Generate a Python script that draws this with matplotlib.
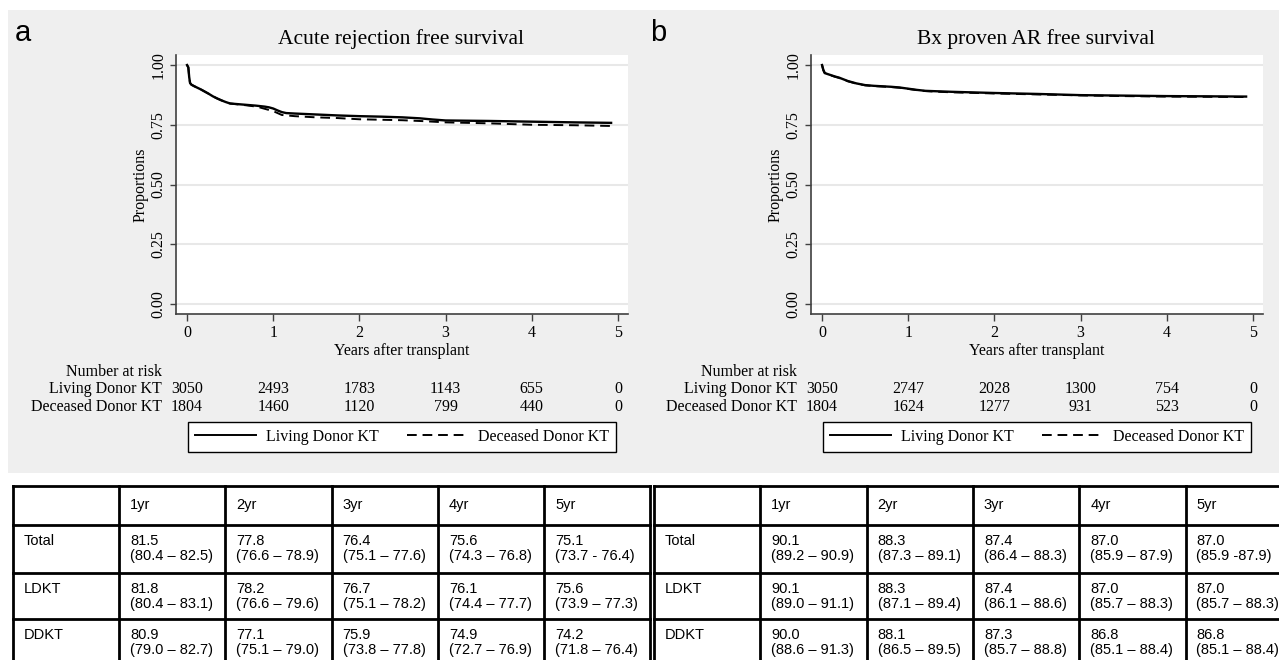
import matplotlib.pyplot as plt
from matplotlib.patches import Rectangle
from matplotlib.lines import Line2D
from matplotlib.transforms import blended_transform_factory

W, H = 1279, 660

# ---- panel a: acute rejection free survival ----
a_ld_t = [0, 0.015, 0.025, 0.035, 0.05, 0.08, 0.12, 0.16, 0.2, 0.25, 0.3, 0.35, 0.4, 0.45,
          0.5, 0.6, 0.7, 0.8, 0.9, 0.95, 1.0, 1.05, 1.1, 1.15, 1.25, 1.5, 1.75, 2.0, 2.25,
          2.5, 2.7, 2.85, 3.0, 3.5, 4.0, 4.5, 4.92]
a_ld_s = [1.0, 0.99, 0.95, 0.925, 0.918, 0.912, 0.905, 0.898, 0.89, 0.88, 0.869, 0.86,
          0.852, 0.845, 0.839, 0.836, 0.833, 0.830, 0.826, 0.823, 0.818, 0.81, 0.803, 0.799,
          0.797, 0.793, 0.789, 0.786, 0.784, 0.781, 0.777, 0.772, 0.768, 0.766, 0.763,
          0.760, 0.758]
a_dd_t = [0, 0.015, 0.025, 0.035, 0.05, 0.08, 0.12, 0.16, 0.2, 0.25, 0.3, 0.35, 0.4, 0.45,
          0.5, 0.6, 0.7, 0.8, 0.85, 0.9, 0.95, 1.0, 1.05, 1.1, 1.25, 1.5, 1.75, 2.0, 2.25,
          2.5, 2.75, 3.0, 3.25, 3.5, 4.0, 4.5, 4.92]
a_dd_s = [1.0, 0.99, 0.95, 0.925, 0.918, 0.912, 0.905, 0.898, 0.89, 0.88, 0.869, 0.86,
          0.852, 0.845, 0.839, 0.835, 0.831, 0.826, 0.822, 0.817, 0.812, 0.807, 0.799,
          0.791, 0.786, 0.781, 0.778, 0.773, 0.771, 0.769, 0.765, 0.760, 0.758, 0.756,
          0.750, 0.748, 0.745]
a_ld_risk = [3050, 2493, 1783, 1143, 655, 0]
a_dd_risk = [1804, 1460, 1120, 799, 440, 0]

# ---- panel b: biopsy proven AR free survival ----
b_ld_t = [0, 0.015, 0.03, 0.05, 0.1, 0.15, 0.2, 0.25, 0.3, 0.35, 0.4, 0.5, 0.6, 0.7, 0.8,
          0.9, 1.0, 1.1, 1.2, 1.35, 1.5, 2.0, 2.5, 3.0, 3.5, 4.0, 4.5, 4.92]
b_ld_s = [1.0, 0.98, 0.968, 0.964, 0.958, 0.952, 0.947, 0.94, 0.933, 0.928, 0.923, 0.916,
          0.913, 0.911, 0.909, 0.906, 0.901, 0.896, 0.892, 0.890, 0.888, 0.883, 0.879,
          0.874, 0.872, 0.870, 0.869, 0.868]
b_dd_t = [0, 0.015, 0.03, 0.05, 0.1, 0.15, 0.2, 0.25, 0.3, 0.35, 0.4, 0.5, 0.6, 0.7, 0.8,
          0.9, 1.0, 1.1, 1.2, 1.35, 1.5, 2.0, 2.5, 3.0, 3.5, 4.0, 4.5, 4.92]
b_dd_s = [1.0, 0.978, 0.966, 0.962, 0.957, 0.951, 0.946, 0.939, 0.932, 0.927, 0.922, 0.915,
          0.912, 0.910, 0.908, 0.905, 0.900, 0.895, 0.891, 0.888, 0.886, 0.881, 0.877,
          0.873, 0.870, 0.868, 0.867, 0.866]
b_ld_risk = [3050, 2747, 2028, 1300, 754, 0]
b_dd_risk = [1804, 1624, 1277, 931, 523, 0]

risk_times = [0, 1, 2, 3, 4, 5]

# ---- tables under the plots ----
years = ['1yr', '2yr', '3yr', '4yr', '5yr']
groups = ['Total', 'LDKT', 'DDKT']
a_est = [['81.5', '77.8', '76.4', '75.6', '75.1'],
         ['81.8', '78.2', '76.7', '76.1', '75.6'],
         ['80.9', '77.1', '75.9', '74.9', '74.2']]
a_ci = [['(80.4 – 82.5)', '(76.6 – 78.9)', '(75.1 – 77.6)', '(74.3 – 76.8)', '(73.7 - 76.4)'],
        ['(80.4 – 83.1)', '(76.6 – 79.6)', '(75.1 – 78.2)', '(74.4 – 77.7)', '(73.9 – 77.3)'],
        ['(79.0 – 82.7)', '(75.1 – 79.0)', '(73.8 – 77.8)', '(72.7 – 76.9)', '(71.8 – 76.4)']]
b_est = [['90.1', '88.3', '87.4', '87.0', '87.0'],
         ['90.1', '88.3', '87.4', '87.0', '87.0'],
         ['90.0', '88.1', '87.3', '86.8', '86.8']]
b_ci = [['(89.2 – 90.9)', '(87.3 – 89.1)', '(86.4 – 88.3)', '(85.9 – 87.9)', '(85.9 -87.9)'],
        ['(89.0 – 91.1)', '(87.1 – 89.4)', '(86.1 – 88.6)', '(85.7 – 88.3)', '(85.7 – 88.3)'],
        ['(88.6 – 91.3)', '(86.5 – 89.5)', '(85.7 – 88.8)', '(85.1 – 88.4)', '(85.1 – 88.4)']]

SERIF = 'Liberation Serif'
SANS = 'Liberation Sans'


def px_rect(l, t, r, b):
    return [l / W, 1 - b / H, (r - l) / W, (b - t) / H]


fig = plt.figure(figsize=(W / 100, H / 100), dpi=100, facecolor='white')

# background / overlay axes in pixel units
bg = fig.add_axes([0, 0, 1, 1], zorder=0)
bg.set_xlim(0, W)
bg.set_ylim(H, 0)
bg.axis('off')
bg.add_patch(Rectangle((8, 10), W - 8, 463, color='#efefef', lw=0))


def km_panel(ox, letter, title, ld_t, ld_s, dd_t, dd_s, pval, px, ld_risk, dd_risk):
    ax = fig.add_axes(px_rect(176 + ox, 55, 628 + ox, 314), zorder=2)
    ax.plot(ld_t, ld_s, color='black', lw=1.7)
    ax.plot(dd_t, dd_s, color='black', lw=1.4, ls=(0, (5, 3)))
    ax.set_xlim(-0.128, 5.116)
    ax.set_ylim(-0.042, 1.042)
    ax.set_yticks([0, 0.25, 0.5, 0.75, 1.0])
    ax.set_yticklabels(['0.00', '0.25', '0.50', '0.75', '1.00'], rotation=90, va='center',
                       family=SERIF, fontsize=11.5)
    ax.set_xticks(risk_times)
    ax.set_xticklabels([str(t) for t in risk_times], family=SERIF, fontsize=11.5)
    ax.yaxis.grid(True, color='#e8e8e8', lw=1.5)
    ax.set_axisbelow(True)
    for s in ['top', 'right']:
        ax.spines[s].set_visible(False)
    for s in ['left', 'bottom']:
        ax.spines[s].set_color('#404040')
        ax.spines[s].set_linewidth(1.2)
    ax.tick_params(axis='y', length=4, width=1, color='#404040', pad=3)
    ax.tick_params(axis='x', length=5, width=1, color='#404040', pad=3)

    bg.text(px + ox, 150, pval, ha='right', va='baseline', family=SANS, fontsize=14,
            zorder=5)
    bg.text(141 + ox, 185, 'Proportions', rotation=90, ha='center', va='center',
            family=SERIF, fontsize=11.5)
    bg.text(401 + ox, 39, title, ha='center', va='center', family=SERIF, fontsize=15.5)
    bg.text(23 + ox, 33, letter, ha='center', va='center', family=SANS, fontsize=21)
    bg.text(402 + ox, 351, 'Years after transplant', ha='center', va='center',
            family=SERIF, fontsize=11.5)

    # number at risk
    bg.text(162 + ox, 372, 'Number at risk', ha='right', va='center', family=SERIF, fontsize=11.5)
    tr = blended_transform_factory(ax.transData, bg.transData)
    for name, vals, y in [('Living Donor KT', ld_risk, 389), ('Deceased Donor KT', dd_risk, 407)]:
        bg.text(162 + ox, y, name, ha='right', va='center', family=SERIF, fontsize=11.5)
        for t, v in zip(risk_times, vals):
            ax.text(t, y, str(v), transform=tr, ha='center', va='center', family=SERIF,
                    fontsize=11.5, clip_on=False)

    handles = [Line2D([], [], color='black', lw=1.4),
               Line2D([], [], color='black', lw=1.4, ls=(0, (5, 3)))]
    leg = fig.legend(handles, ['Living Donor KT', 'Deceased Donor KT'], loc='center',
                     bbox_to_anchor=((402 + ox) / W, 1 - 437 / H), ncol=2, frameon=True,
                     fancybox=False, edgecolor='black', facecolor='white', framealpha=1,
                     prop={'family': SERIF, 'size': 11.5}, handlelength=3.8,
                     handletextpad=0.6, columnspacing=1.8, borderpad=0.45)
    leg.get_frame().set_linewidth(1.0)
    return ax


km_panel(0, 'a', 'Acute rejection free survival', a_ld_t, a_ld_s, a_dd_t, a_dd_s,
         'P=0.457', 619, a_ld_risk, a_dd_risk)
km_panel(635, 'b', 'Bx proven AR free survival', b_ld_t, b_ld_s, b_dd_t, b_dd_s,
         'p=0.891', 612, b_ld_risk, b_dd_risk)


def draw_table(x0, col_w, est, ci):
    row_y = [486, 525, 573, 619]
    ncol = 6
    xs = [x0 + i * col_w for i in range(ncol + 1)]
    for y in row_y:
        bg.plot([xs[0], xs[-1]], [y, y], color='black', lw=2, solid_capstyle='projecting')
    for x in xs:
        bg.plot([x, x], [row_y[0], H + 5], color='black', lw=2, solid_capstyle='projecting')
    pad = 11
    for j, yr in enumerate(years):
        bg.text(xs[j + 1] + pad, (row_y[0] + row_y[1]) / 2, yr, ha='left', va='center',
                family=SANS, fontsize=10.5)
    for i, g in enumerate(groups):
        top = row_y[i + 1]
        bg.text(xs[0] + pad, top + 16, g, ha='left', va='center', family=SANS, fontsize=10.5)
        for j in range(len(years)):
            bg.text(xs[j + 1] + pad, top + 16, est[i][j], ha='left', va='center',
                    family=SANS, fontsize=10.5)
            bg.text(xs[j + 1] + pad, top + 31, ci[i][j], ha='left', va='center',
                    family=SANS, fontsize=10.5)


draw_table(13, 106.2, a_est, a_ci)
draw_table(654, 106.3, b_est, b_ci)

fig.savefig('out.png', dpi=100, facecolor='white')
